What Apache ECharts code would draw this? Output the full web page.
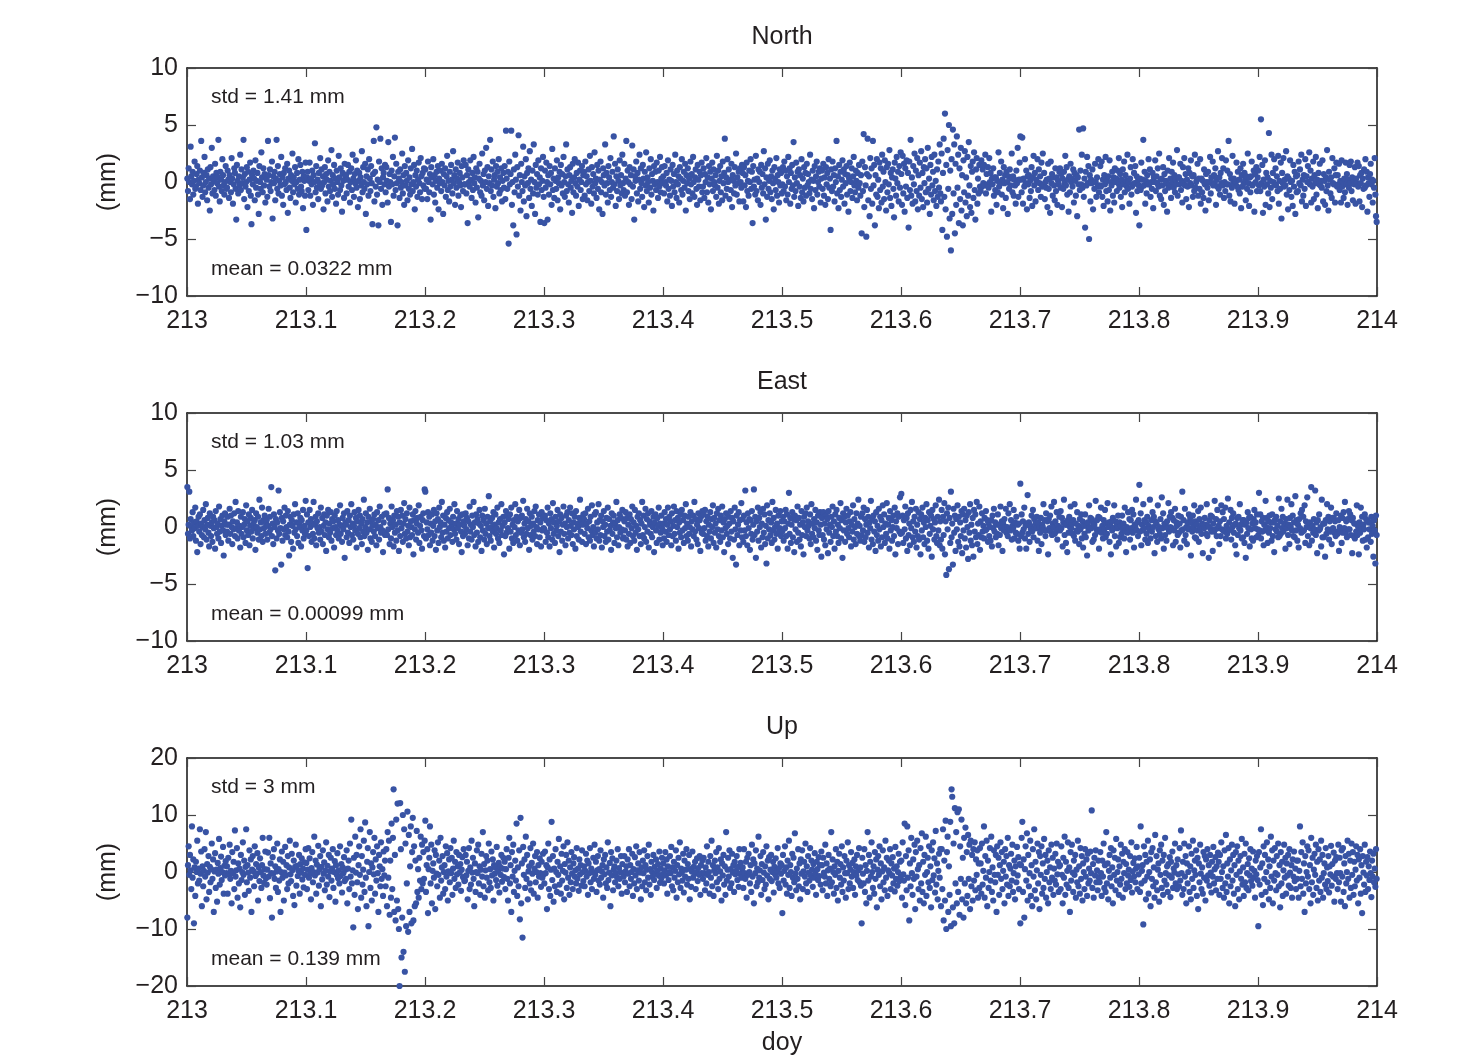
<!DOCTYPE html>
<html><head><meta charset="utf-8">
<script src="https://cdn.jsdelivr.net/npm/echarts@6/dist/echarts.min.js"></script>
<style>html,body{margin:0;padding:0;background:#fff}#c{width:1475px;height:1058px}</style>
</head><body><div id="c"></div>
<script>
// residual values in tenths of mm, 60 epochs per row, 30 rows spanning doy 213..214
const panelTitles = ["North", "East", "Up"];
const stdLabels = ["std = 1.41 mm", "std = 1.03 mm", "std = 3 mm"];
const meanLabels = ["mean = 0.0322 mm", "mean = 0.00099 mm", "mean = 0.139 mm"];
const xMin = 213, xMax = 214;
const yRanges = [[-10, 10, 5], [-10, 10, 5], [-20, 20, 10]];

const northRows = [
[3,-8,12,0,-15,31,5,-2,9,-11,1,18,-6,-4,7,14,-19,2,-1,10,-7,36,4,-13,-3,8,22,-9,0,6,-16,11,-5,3,-25,13,-2,30,-10,5,1,-7,16,-12,8,-1,4,37,-4,-17,9,2,-8,20,6,-3,-11,0,14,-6],
[-5,10,2,-14,6,0,-9,21,3,-19,-2,12,8,-6,-33,15,1,-10,5,-3,24,-7,11,-1,4,37,-15,7,-4,0,13,-22,9,-8,2,17,-12,-37,6,-2,10,3,-16,19,-5,1,8,-11,-28,14,0,-6,26,4,-9,12,-3,7,-18,5],
[2,-13,36,6,-4,11,-8,0,18,-32,5,-1,9,-16,3,37,-6,14,-10,1,7,-3,22,-12,4,-20,8,-2,12,0,-7,16,-27,3,10,-5,-14,6,1,25,-9,4,-2,13,-18,0,8,-6,20,-11,2,15,-4,-8,9,-23,5,1,-12,17],
[-42,4,9,-7,1,17,-12,3,-2,10,-20,6,0,34,-9,14,-5,2,-15,8,-1,21,-6,11,-3,5,-24,0,13,-10,7,2,-17,19,-4,9,-8,1,28,-13,6,-2,15,-6,3,-19,10,0,-11,23,4,-7,12,-3,-26,8,1,-14,16,5],
[6,-10,2,15,-4,9,-18,0,12,-7,24,3,-13,7,-1,19,-5,10,-22,1,8,-15,4,-3,27,-9,13,0,-6,16,-28,5,-2,11,-12,20,3,-8,14,-1,-37,7,36,-17,9,-4,48,-11,2,-38,18,0,38,-6,12,-20,4,8,-2,15],
[-9,13,1,-18,35,-4,7,0,-35,10,-2,22,-12,5,39,-7,16,-1,-38,9,3,-14,11,-5,0,25,-10,6,-20,14,-3,8,1,-16,19,-6,4,-11,12,-2,29,-8,0,15,-24,6,-4,10,-13,2,17,-1,-9,21,5,-15,8,-3,12,-6],
[11,-6,2,-15,18,0,-9,7,-33,13,4,-2,20,-11,6,-18,1,9,-5,14,-24,3,-1,10,-8,16,0,-28,7,-3,12,-13,5,23,-7,1,-17,9,-4,15,2,-10,27,-1,6,-20,11,-5,3,17,-12,0,8,-3,-22,14,4,-8,19,-2],
[-2,15,-10,6,-36,11,0,-4,19,2,-14,8,-7,22,-1,4,-18,12,-5,9,-31,3,16,-9,1,-12,25,-3,7,-16,10,0,30,-6,13,-21,5,-1,37,-8,11,-3,18,-13,2,6,-23,14,-4,9,-1,20,-10,4,-7,12,-17,1,8,-5],
[14,-15,45,3,-6,9,-54,18,-2,7,45,-20,0,-38,11,-9,24,2,-46,13,-4,41,-12,6,-25,16,0,-8,31,-17,5,-3,20,-30,8,-1,12,-14,27,-6,2,-21,10,-10,33,0,-28,15,-5,7,-11,19,-2,4,-35,12,-7,1,22,-13],
[-36,10,-5,17,0,-33,6,-11,14,-2,8,-20,29,-7,3,-14,12,1,-6,19,-16,4,-1,9,-24,15,-3,7,-10,22,0,-13,5,33,-8,11,-2,-18,6,13,-5,1,-27,16,-9,4,20,-1,-12,8,-4,17,-21,2,10,-7,0,14,-15,6],
[9,-12,18,-2,5,-16,0,11,-8,23,1,-19,13,-4,7,-10,26,-1,3,-14,15,-6,10,-24,2,18,-9,0,-28,12,6,-3,33,-11,8,-1,-18,14,4,-7,21,-13,0,9,-5,40,-2,16,-21,5,-8,11,1,-15,19,-3,6,-10,24,-1],
[-7,16,-12,3,36,-9,10,0,-20,13,-2,6,-15,32,-4,11,-33,5,1,18,-10,8,-17,2,24,-6,12,-1,-13,15,3,-22,9,-3,26,-8,4,0,-18,12,-5,20,-11,7,1,-25,14,-2,9,-7,17,0,-14,10,-4,22,-9,3,13,-1],
[5,-10,14,0,-3,8,-17,19,-6,2,-12,11,1,-21,15,-4,7,-9,24,0,-14,10,-2,5,-18,13,3,-7,20,-11,1,9,-5,16,-25,6,-1,12,-8,3,-15,18,-2,7,-10,22,0,-13,4,11,-6,-20,15,2,-4,9,-16,6,17,-9],
[-4,12,-14,7,0,21,-9,4,-18,14,-2,9,-24,3,17,-8,11,0,-3,6,-13,23,-5,10,-19,1,14,-9,5,-16,18,-1,8,38,-12,4,-6,20,0,11,-15,2,-7,16,-22,6,1,-10,13,-3,25,-11,4,-1,9,-17,12,0,-5,15],
[8,-17,13,-3,6,-22,17,-8,1,-12,10,0,20,-6,9,-36,14,-4,2,-11,23,-8,3,-16,11,0,9,-20,15,-5,7,-10,27,-2,12,-33,4,-13,16,-6,1,19,-9,5,-15,10,-1,-24,13,3,-7,21,-12,6,0,-18,11,-3,8,-10],
[-2,13,-8,18,-4,10,-16,5,-11,22,0,12,-19,8,-6,15,-3,35,-13,4,-8,17,-1,9,-21,11,-4,6,-14,20,-9,3,-17,13,-5,8,-12,16,-3,7,0,-10,24,-6,2,-15,10,1,-23,14,-7,5,18,-11,0,9,-4,12,-18,3],
[10,-6,16,-12,4,-20,13,-2,8,-15,20,-5,3,-42,11,-8,18,-4,6,-17,12,0,36,-10,5,-23,15,-7,9,-13,2,19,-4,11,-19,7,-1,14,-11,6,-26,3,17,-8,0,12,-14,5,22,-3,-9,10,1,-16,8,-5,15,-1,-12,6],
[-45,18,-8,42,-22,13,-3,-48,7,38,-16,5,-30,21,-6,12,-19,36,-3,15,-38,6,-11,20,-13,2,-23,17,-7,12,-18,24,-4,9,-15,19,0,-25,13,-9,16,-2,28,-14,8,-21,4,11,-6,-31,17,3,-12,22,-1,9,-17,14,-5,26],
[7,-20,23,-10,16,-26,12,-4,19,-14,8,-40,18,-7,37,-12,4,-19,14,-2,25,-17,10,-8,21,-24,6,-12,17,-5,27,-15,8,-22,13,-1,20,-9,12,-18,30,-6,3,-28,15,-11,22,-3,9,-16,24,-8,1,-21,11,-13,18,-5,33,-10],
[-17,25,-42,8,38,-13,60,-24,15,-48,28,-6,50,-32,10,-60,20,-28,46,-10,33,-45,16,-20,40,-5,24,-36,12,-15,30,-25,6,-38,19,-9,27,-18,4,-30,22,-12,35,-3,-22,14,-27,9,18,-14,26,-7,-33,11,21,-19,3,-10,15,-4],
[-8,19,-4,11,-1,15,-3,24,-10,7,-2,13,-5,21,0,8,-26,3,-2,12,-12,4,-7,4,-20,1,-9,26,-4,8,-1,18,-11,2,-23,13,-1,6,-14,9,0,-28,5,-6,11,-3,3,25,-9,5,-12,2,-3,-19,10,-1,30,-13,2,17],
[40,2,-9,39,-19,3,-4,20,-1,10,-24,5,-2,6,-14,1,-8,13,-21,4,23,-3,8,-17,2,0,20,-7,11,-1,5,-13,17,-4,25,-2,8,-15,0,-5,2,-22,16,-6,3,-27,18,-1,7,-12,4,-3,-16,12,-8,4,-20,1,-2,9],
[12,-5,7,-22,3,-6,9,-1,23,-3,13,-11,2,-26,5,-9,16,0,3,-4,11,-18,8,1,-12,6,-30,4,-2,46,-7,10,-2,24,-5,47,-13,3,-40,9,-3,22,-1,14,-50,6,-17,2,-1,11,-24,0,-6,16,0,-13,4,-4,20,-9],
[-3,14,-4,18,-13,2,-21,6,-2,22,-8,1,-17,5,-7,19,-25,0,-3,9,-12,4,-18,12,0,3,-8,10,-1,21,-5,7,-13,2,-22,11,-2,18,-9,6,1,-4,24,-6,0,-19,3,13,-11,-4,20,-2,8,-1,14,-27,5,-8,1,-3],
[-38,3,-7,17,-4,2,37,-3,9,-19,1,-10,6,-2,20,-2,11,-13,0,-6,8,-23,4,0,19,-8,5,-1,12,-4,25,-12,2,-15,3,-3,13,-20,7,-8,1,-1,-26,10,-5,21,-2,3,-14,9,0,17,-5,6,-9,2,-2,28,-12,4],
[4,-2,16,-7,1,-18,13,-1,21,-3,7,-15,2,-4,12,-22,8,-1,19,-3,5,-13,6,-8,24,-5,0,2,16,-12,3,-6,20,-19,3,-9,1,-14,11,-2,-25,7,0,-5,9,-16,0,22,-10,4,-1,18,-3,6,-1,12,-20,2,-4,27],
[-6,4,-11,8,-1,21,-3,12,-14,0,-8,19,-2,10,-2,36,-12,7,-17,3,-5,23,-1,3,-19,1,0,17,-4,9,-7,2,-10,12,-23,6,-4,16,-1,8,2,-16,5,-6,25,-1,-21,4,-9,5,18,-3,-2,10,-26,7,0,13,-8,4],
[10,-3,22,-8,55,-1,15,-27,2,-4,19,-20,8,-2,4,-10,43,-22,1,-5,24,-15,8,0,20,-2,12,-3,5,-8,23,-19,1,-6,17,-32,8,-1,21,-4,2,-3,27,-11,5,-24,3,-7,19,0,-13,1,-21,15,-4,9,-28,5,-9,6],
[-8,18,-1,11,-3,24,-17,2,-12,6,-6,20,-21,5,0,14,0,26,-2,10,-18,3,-4,18,-15,6,-1,22,-11,2,-23,8,-2,16,-3,1,-5,19,-17,7,1,-20,4,-8,28,-3,-25,9,2,-10,4,-14,21,-1,-2,12,-18,6,17,-4],
[6,-2,16,-7,1,-18,19,-4,0,-14,3,-9,17,-2,7,-20,2,-5,15,-1,18,-8,4,-16,0,-2,13,-19,3,-1,17,-4,14,-17,6,-1,8,-22,3,-6,11,-5,20,-3,9,-26,4,-1,-13,7,16,-2,2,-18,1,-5,21,-11,-30,-35]
];

const eastRows = [
[35,-6,2,31,-10,7,0,-3,13,-8,4,-1,17,-12,5,-22,1,9,-4,11,-15,3,-7,0,15,-9,6,-2,20,-11,2,8,-5,-17,12,1,-8,4,-13,9,-1,6,-19,14,0,-6,3,-10,18,-4,7,-14,1,10,-3,-25,5,12,-7,2],
[-4,9,-12,2,16,-6,10,0,-15,5,-2,12,-8,22,-1,4,-10,14,-3,1,-18,9,-6,0,13,-9,2,7,-14,19,-3,5,-7,11,-16,1,8,-4,15,-10,3,-1,6,-20,12,0,-5,9,-11,24,-2,4,-8,17,-13,6,-1,10,-6,3],
[6,-11,1,16,-5,9,-2,35,-8,3,-15,11,0,-38,7,-10,4,-3,32,-6,13,-1,-33,8,-12,5,-2,17,-7,10,0,-9,14,-4,-25,2,9,-13,6,1,-19,11,-5,20,-2,4,-8,12,-14,3,0,8,-17,6,-3,15,-10,1,-6,23],
[-3,11,-36,4,-8,15,0,7,-13,3,-6,22,-10,2,9,-16,5,-1,12,-5,0,-11,17,-4,8,-15,1,11,-7,4,-21,10,-2,15,-9,3,-5,13,-12,7,-1,5,-18,10,0,-7,14,-3,6,-10,2,19,-6,1,-13,8,-2,12,-27,4],
[2,-9,14,-5,6,-14,10,0,20,-7,3,-11,1,13,-3,8,-18,5,-6,15,-1,10,-9,3,-15,7,-4,24,-8,0,12,-5,4,-20,9,-2,16,-10,5,-13,1,7,-4,11,-8,2,-16,13,-1,6,-11,18,0,-5,9,-3,-22,4,11,-7],
[-5,12,-7,33,-2,8,-15,3,-10,18,0,6,-17,10,-5,2,-12,14,-3,9,-21,4,-8,15,-1,10,-13,3,21,-6,7,-10,12,-4,1,-16,17,-9,5,0,-7,11,-24,6,-2,14,-11,3,8,-5,19,-14,1,9,-3,-19,6,12,-8,33],
[31,-10,4,-2,13,-7,9,-16,3,-5,11,-12,1,15,-8,5,-20,12,-3,7,-14,17,0,4,-9,22,-5,10,-12,2,-18,8,-4,13,-10,6,-1,16,-7,4,0,-13,9,-2,20,-6,3,-11,14,-1,7,-15,2,10,-4,-22,11,-8,5,1],
[-6,12,-2,8,-16,5,-10,18,-4,2,-11,10,0,22,-7,4,-17,11,-5,7,-13,3,15,-9,1,-21,10,-3,6,-11,16,-6,3,-15,9,-1,27,-8,5,-12,0,8,-4,13,-18,2,11,-6,-1,17,-10,4,-14,7,-3,20,-7,1,9,-24],
[4,-8,14,-5,10,-1,7,-19,11,-4,17,-10,2,-14,6,0,20,-7,9,-12,5,-3,15,-16,8,-5,10,-2,23,-9,3,-13,7,-6,16,-1,5,-20,12,-7,1,9,-11,3,-4,14,-8,18,0,-15,6,-2,11,-9,4,-17,13,-3,8,-1],
[-2,10,-13,6,-5,17,-9,3,-17,12,-1,7,-11,21,-6,4,-14,9,-3,1,15,-8,5,-22,11,-4,8,-12,2,18,-6,3,-16,10,0,13,-10,6,-5,17,1,-7,12,-15,4,-2,9,-19,14,-8,3,0,-11,8,24,-4,6,-13,2,11],
[7,-6,12,-15,3,-1,16,-9,5,-12,9,-3,19,-7,0,-17,11,-5,13,-10,4,-2,20,-12,6,-7,10,-18,5,0,14,-8,2,-13,8,-4,17,-11,7,-3,1,-20,12,-6,4,10,-14,3,-1,22,-9,6,-16,0,11,-5,8,-2,15,-10],
[-9,5,-3,13,-11,8,-17,2,-6,11,-14,7,-1,18,-8,4,-12,15,-5,1,-20,9,-2,12,-8,6,-15,3,22,-7,10,-10,0,16,-13,7,-4,12,-18,5,2,-6,14,-9,0,9,-22,4,11,-3,-14,8,1,17,-11,3,-5,10,-1,-16],
[3,-10,13,-4,7,-13,2,17,-7,9,-2,5,-16,12,-8,1,18,-6,6,-12,14,0,8,-19,4,-5,11,-9,15,-3,6,-14,10,-1,20,-8,3,-12,9,-6,0,13,-17,5,-2,10,-8,22,-4,7,-11,2,-15,12,-1,6,-21,9,-5,14],
[-6,11,-1,15,-12,5,-8,9,-17,2,-4,13,-10,7,0,19,-14,8,-5,3,-18,12,-2,16,-8,6,-13,10,-3,18,-9,4,-22,7,-1,12,-6,1,-15,9,3,-10,14,-4,8,-27,5,-11,17,-2,-33,10,-7,2,13,-16,6,-3,21,-9],
[7,-13,10,-3,32,-8,4,-16,12,-1,7,-20,6,-6,14,-11,2,33,-7,9,-27,5,-4,17,-12,8,0,13,-18,3,-9,16,-5,11,-15,1,-32,19,-10,6,-2,12,-7,4,-14,22,-3,8,-11,0,15,-6,3,-19,10,-4,-1,14,-8,5],
[-4,9,-12,5,-1,15,-8,11,-19,3,30,-6,8,-14,2,13,-9,7,-22,10,-2,6,-13,18,-5,8,-11,2,-17,14,-7,4,-24,9,0,12,-8,17,-3,5,1,-10,11,-15,20,-6,3,-9,7,-1,15,-12,4,-20,10,-3,-7,13,2,-26],
[8,-7,13,-11,3,-16,10,-2,7,-23,14,-5,2,-13,9,0,18,-8,5,-19,11,-4,15,-8,2,-14,8,-1,21,-10,6,-27,12,-3,9,-13,4,16,-6,10,-1,-9,5,13,-17,2,-4,19,-11,7,0,-15,12,-6,3,24,-8,1,-12,9],
[-7,12,-3,17,-13,7,-9,2,15,-5,9,-18,4,-1,23,-11,8,-15,10,-4,5,-21,13,-7,1,-12,16,-2,9,-17,6,-9,19,0,11,-14,3,-6,21,-10,2,8,-19,14,-3,6,-12,0,10,-8,17,-24,5,-1,12,-15,9,-4,26,-6],
[29,-5,10,-14,6,-2,18,-10,8,-21,12,-7,3,-16,15,-1,22,-9,5,-13,9,-4,16,-18,2,-8,13,-11,7,-24,11,-3,17,-9,4,-15,8,0,20,-12,6,-19,13,-6,1,10,-26,15,-2,7,-11,4,19,-8,-14,9,-3,24,-16,5],
[-11,15,-19,9,-7,21,-24,5,-42,12,-2,17,-37,8,-14,31,-9,3,-33,16,-5,10,-21,7,-2,19,-13,9,-17,4,-8,14,-23,11,-3,16,-10,6,-18,10,0,-28,13,-5,20,-12,2,-16,8,-26,15,-4,11,-9,22,-15,3,-7,18,-20],
[5,-9,12,-4,1,-10,8,-3,14,-2,6,-13,3,-8,0,-12,6,-17,10,-1,16,-4,4,-9,2,-6,11,-16,2,-7,18,-1,5,-21,3,-3,7,0,16,-5,0,-8,12,-2,20,-3,6,-11,1,-1,15,-10,4,-5,9,-6,2,-12,3,-19],
[38,-8,11,-5,5,-2,17,-10,1,-19,3,28,-6,4,-13,1,-2,10,-4,15,-9,7,-1,3,-1,9,-12,4,-21,0,-5,8,-15,2,0,20,-3,6,-8,12,-3,5,-24,7,-1,10,-4,18,-7,3,0,22,-6,5,-4,13,-11,1,-2,9],
[-3,14,-1,8,-17,4,24,-7,2,-14,2,-22,6,-5,9,0,18,-1,3,-6,6,-8,20,-12,3,-3,13,-4,1,-15,7,-2,11,-10,5,-18,1,-6,11,-9,1,-25,4,-3,19,0,8,-1,7,-13,4,-11,2,-7,23,-2,6,-4,9,-19],
[8,-2,17,-5,1,-10,6,-2,15,-9,3,-6,21,0,4,-13,2,-24,5,-3,8,-1,19,-8,5,-17,2,-1,10,-14,4,-9,1,-6,10,-2,3,-10,17,-4,-22,0,-5,13,-2,7,-11,6,-1,15,-5,11,-18,2,0,24,-3,4,-8,6],
[37,-4,12,-16,2,-3,20,-1,6,-11,4,-6,9,-14,1,-2,24,-10,6,-4,13,0,9,-23,5,-8,3,-13,19,-2,0,-6,7,-10,26,-1,12,-19,3,-7,2,-12,5,-1,21,-4,9,0,13,-1,8,-16,6,-3,16,-13,4,1,-7,10],
[-5,3,-18,9,-3,31,-2,6,-12,16,-7,0,-15,4,-2,11,-1,8,-25,4,-4,10,0,19,-9,5,-10,2,-3,14,-13,7,-1,17,-6,3,-23,2,-1,8,2,-6,20,-8,1,-27,6,-1,10,-4,9,-21,3,-4,23,-2,7,-8,15,-1],
[1,-15,5,-8,19,-2,13,-3,7,-4,17,-10,1,-6,25,-3,4,-2,15,-11,8,0,12,-5,2,-16,3,-24,8,-7,9,-1,20,-3,2,-10,6,-9,6,-14,2,-27,4,-6,13,-1,8,-17,9,-2,-10,3,-12,7,15,-1,4,-9,11,-2],
[-7,30,-3,11,-10,5,-4,8,-16,2,-3,23,0,8,-14,5,-5,10,-1,4,-12,11,-8,4,-22,6,-2,9,-4,1,-9,25,-8,5,-6,16,-1,9,-4,3,1,-19,7,-1,24,-7,2,-15,8,0,20,-3,10,-8,4,-9,27,-3,6,-12],
[2,-18,7,-1,12,-5,15,-4,9,-3,19,-14,5,0,26,-8,2,-16,4,-1,35,-12,1,-5,7,-2,32,-7,4,-23,6,-3,11,-2,0,-17,24,-9,3,-9,3,-26,6,-6,20,-2,9,-11,5,-4,17,-15,8,-1,8,-5,5,-8,12,-4],
[-6,6,-21,0,-4,10,-14,8,-5,13,-1,22,-5,5,-9,7,-2,14,-2,11,-7,6,-23,8,-8,3,-10,3,-4,19,-7,0,-24,4,-5,17,-1,9,-12,2,-2,11,-11,7,-18,5,-9,4,-2,4,-13,9,-6,1,-26,6,-3,-32,10,-7]
];

const upRows = [
[-80,12,45,-5,30,3,-30,80,-10,22,-90,8,-42,18,0,55,-20,6,-15,75,-3,36,-60,10,-25,2,40,-8,70,-48,14,-1,28,-35,9,-18,5,50,-12,22,-70,1,33,-28,4,-52,16,-3,58,-22,7,27,-14,0,44,-38,11,-6,19,-2],
[10,-38,25,-4,48,-12,2,-55,35,-2,18,-30,73,-8,3,42,-45,15,-20,6,-62,30,-14,0,52,-5,20,-40,9,75,-18,12,-1,-33,38,-10,22,-70,4,28,1,-25,45,-7,14,-3,33,-50,8,-16,24,0,-28,12,60,-6,-19,5,36,-11],
[-22,4,34,-8,60,-46,15,-2,-80,26,-3,40,-12,10,-28,1,50,-35,5,-15,22,-70,0,36,-10,18,-50,-1,44,-6,12,-30,28,-20,8,55,-4,-16,32,3,-42,20,-58,9,48,-24,11,-7,2,30,-38,14,-1,24,-13,6,-27,17,-5,40],
[16,-30,4,42,-10,24,-2,-48,7,35,-18,0,62,-6,20,-38,13,-1,46,-24,5,28,-60,9,-13,38,-3,17,-32,2,52,-22,11,-8,30,-44,1,25,-15,6,40,-28,0,19,-52,12,-5,33,-11,3,-20,45,-7,14,-36,8,-2,26,-16,4],
[-12,38,-55,6,20,-30,50,-8,92,-20,3,-97,25,-40,62,-1,30,-18,-65,12,45,-5,75,-45,28,-22,4,55,-35,87,-10,-60,18,42,-95,0,70,-28,15,-50,8,35,-4,60,-38,22,-15,45,-2,-70,30,10,-25,52,-12,5,-42,36,-6,20],
[-25,40,-60,70,-10,55,-75,20,-45,85,-30,60,145,-70,30,-85,92,-50,120,-65,-100,-200,121,40,-150,-80,100,-140,75,-175,50,-95,-20,106,-105,65,-70,10,80,-90,35,95,-85,45,-60,20,-55,72,-35,5,-45,25,-15,62,-30,48,-20,35,-12,55],
[90,-35,12,40,-72,5,25,80,-20,48,-55,2,15,-10,38,-65,30,-3,-25,52,-5,20,-45,60,-15,8,28,-38,0,12,-30,45,-8,33,-50,1,22,-18,42,-2,25,-40,6,55,-12,18,-28,35,-4,10,-22,30,-1,14,-33,4,26,-9,40,-16],
[-15,30,-6,18,-48,2,42,-30,8,-22,55,-1,25,-12,-60,15,-35,0,38,-2,48,-20,10,-40,4,32,-8,70,-25,14,-45,3,28,-10,20,-32,50,-18,5,-28,36,-6,22,-50,12,-3,8,-14,44,-24,1,16,-36,9,-5,30,-17,6,25,-9],
[18,-30,5,40,-12,-50,25,60,-20,12,-70,35,-8,48,-35,2,20,-15,85,-42,8,-25,38,-83,95,-55,15,-115,44,-5,22,-28,62,-12,30,-48,1,10,-20,42,-32,16,-3,50,-38,6,28,-18,0,35,-45,12,-8,24,-2,-26,18,-10,32,-4],
[-20,36,-2,12,-65,8,50,-30,22,-42,4,88,-14,28,-52,6,-25,40,0,-35,18,-5,58,-22,10,-38,32,-15,2,45,-48,14,-1,30,-28,52,-10,20,-40,8,-18,35,-3,-30,15,26,-8,3,-20,42,-12,6,-33,22,-4,12,-24,38,0,-16],
[10,-25,2,32,-8,20,-40,15,-2,42,-18,6,-30,0,25,-12,48,-5,18,-35,3,28,-15,5,-22,38,-10,1,12,-45,22,-4,30,-20,8,-28,52,-14,-1,16,-60,35,-6,24,-32,4,10,-18,-2,20,-9,40,-25,7,-12,0,28,-38,14,-3],
[-8,28,-18,1,10,-35,22,-3,40,-25,12,-12,0,32,-42,5,-20,26,-6,45,-30,3,15,-15,35,-1,-48,8,-25,20,-2,38,-18,12,-32,4,28,-10,48,-22,5,-40,18,0,-8,30,-14,9,-3,22,-28,2,14,-6,36,-19,6,-11,25,-4],
[15,-20,3,35,-6,22,-38,10,-14,0,28,-2,44,-25,8,-32,18,-10,2,38,-45,12,-18,25,-4,52,-28,6,-1,-15,32,-36,20,-8,4,40,-22,14,-12,30,-48,5,-26,1,36,-10,9,-3,18,-30,0,24,-16,7,-5,28,-40,12,-2,20],
[-12,25,-2,-32,8,-20,45,-5,18,0,-38,28,-10,55,-25,12,-42,3,20,-2,35,-18,8,-30,42,-12,1,22,-50,15,-6,30,-22,10,-40,70,-15,4,25,-8,38,-28,5,-20,32,-1,12,-35,18,-4,2,28,-14,9,-26,40,-3,16,-10,6],
[8,-28,40,-2,-12,18,-45,25,-5,32,0,-20,12,-35,48,-8,22,-55,15,-2,38,-25,6,-18,62,-10,3,28,-40,14,-14,35,-1,-30,10,-22,45,-6,20,-48,26,-12,4,30,-16,0,18,-36,9,-4,24,-10,2,42,-20,7,-28,15,-3,12],
[-72,30,-15,2,45,-22,8,-38,20,-5,55,-28,12,0,-42,32,-10,25,-18,68,-3,-32,6,-12,40,-25,15,-48,22,-3,38,-30,1,18,-8,50,-20,10,-35,28,-1,-15,42,-6,20,4,-26,14,-10,33,-2,-40,18,5,-14,26,-7,12,-22,36],
[12,-32,25,-1,-8,48,-20,15,-42,3,30,-12,6,-25,70,-18,22,0,-38,10,-5,40,-28,18,-50,2,32,-10,14,-22,45,-35,8,-15,28,-2,-45,20,-2,52,-30,12,-20,4,35,-8,16,-28,0,22,-40,10,-6,30,-14,3,42,-18,8,-24],
[-90,25,-3,-20,40,-35,12,-55,2,70,-15,30,-45,18,-8,52,0,-28,10,-38,35,-12,22,-62,4,28,-5,45,-25,15,-48,1,38,-18,8,-32,55,-10,25,-42,3,20,-2,40,-30,15,-6,26,-20,6,-34,44,-12,10,-24,0,32,-16,18,-8],
[20,-45,52,-4,-15,85,-58,28,-32,80,-10,38,-85,15,-25,60,-2,-40,22,-12,48,-65,35,-8,55,5,-30,12,-50,42,-20,68,-35,18,-55,30,-5,62,-42,0,25,-18,45,-28,10,-62,38,-14,52,-6,24,-36,72,-22,15,-48,2,32,-10,40],
[-60,40,-30,75,-85,20,-50,90,-100,35,62,-70,10,-40,88,-95,145,132,-62,50,-90,112,-20,70,-55,105,-35,110,-75,45,-12,92,-48,25,-80,60,-20,78,-55,35,-42,65,-12,48,-65,55,-25,30,-50,40,-15,52,-32,22,-5,38,-45,15,-28,42],
[15,-38,50,-22,2,80,-45,28,-10,55,-60,20,-28,0,42,-15,62,-35,8,-50,38,-5,-18,30,-70,45,-5,25,-40,12,52,-12,35,-30,2,18,-55,40,-8,28,-22,60,-42,12,-25,6,32,-15,48,-35,-2,20,-48,10,-18,44,-6,26,-30,14],
[-90,12,60,88,-35,22,-80,5,45,-15,68,-50,30,-25,-2,55,-42,12,-60,40,-8,75,-32,18,-48,3,50,-20,35,-65,28,-5,45,-38,15,-28,58,-12,30,-45,0,20,-55,38,-18,8,-30,48,-10,25,-40,6,-15,32,-22,50,-4,18,-35,10],
[12,-30,45,-5,-55,25,-10,62,-40,18,-22,2,52,-28,8,-70,35,-15,48,-1,-35,20,-5,30,-45,4,-18,55,-25,10,-38,42,-12,28,-50,15,0,-30,40,-8,22,-42,32,-20,6,-15,36,-2,108,-28,14,-45,25,-6,38,-18,3,-32,20,-10],
[-18,35,-2,-42,20,-8,50,-28,12,-35,70,-20,15,-48,2,30,-10,42,-25,8,-55,38,-5,25,-32,58,-15,0,22,-40,10,-22,48,-12,32,-45,18,-2,40,-30,14,-20,35,-6,4,-26,28,-14,52,-36,1,16,-8,24,-18,6,44,-30,10,-4],
[25,-35,80,-20,2,12,-92,45,-15,30,-48,18,-8,55,-38,0,22,-60,35,-12,42,-25,8,-45,65,-18,28,-32,4,15,-52,38,-5,48,-28,20,-40,30,-15,60,-2,-22,10,-35,14,-6,26,-44,18,-10,36,-28,6,-1,50,-20,12,-30,22,-4],
[-25,42,-15,73,-2,-40,18,-30,50,-8,28,-55,15,-20,0,45,-35,10,-48,32,-12,55,-28,3,20,-5,38,-42,25,-65,15,-18,48,-3,-30,8,-38,35,-10,28,-50,22,-15,40,-6,12,-24,30,-1,-36,18,-8,44,-20,5,26,-32,10,-12,34],
[18,-40,30,-12,52,0,-28,10,-45,38,-20,65,-35,15,-8,42,-55,22,-25,3,48,-15,30,-38,12,-60,35,-5,45,-30,20,-48,1,28,-12,58,-22,8,-42,32,-18,50,-28,-2,14,-32,24,-6,40,-16,6,-24,36,-10,2,-45,20,-4,28,-14],
[-95,35,-22,8,75,-40,15,-58,45,-12,30,-35,0,52,-18,22,-48,10,-28,62,-8,38,-55,20,-15,42,-2,-32,28,-5,50,-25,12,-62,35,-20,18,-42,3,48,-10,25,-38,15,-6,30,-24,40,-1,-28,12,-45,22,-8,36,-16,6,-30,20,-12],
[20,-45,2,80,-25,35,-12,52,-38,15,-70,28,-20,0,45,-8,38,-30,12,-55,60,-18,25,-40,4,32,-5,48,-28,18,-50,40,-15,22,-35,55,-10,30,-45,-2,15,-22,42,-30,8,-16,28,-36,10,-4,46,-24,14,-8,34,-52,20,-12,26,-2],
[-30,48,-18,25,-2,-52,38,-8,42,-35,15,-60,28,-20,0,55,-12,32,-45,20,-28,50,-5,35,-40,18,-25,4,45,-15,30,-55,22,-10,40,-38,12,-72,28,-1,-22,48,-35,18,-6,26,-30,10,-14,36,-2,-44,20,-8,32,-18,6,-26,40,-12]
];

const allRows = [northRows, eastRows, upRows];

function toPoints(rows) {
  const n = rows.reduce((s, r) => s + r.length, 0);
  const pts = [];
  let k = 0;
  rows.forEach(r => r.forEach(v => {
    pts.push([xMin + (k + 0.5) * (xMax - xMin) / n, v / 10]);
    k++;
  }));
  return pts;
}

const FONT = '"Liberation Sans", Arial, Helvetica, sans-serif';
const TXT = '#231f20';
const DOT = '#3853a4';
const tops = [68, 413, 758];
const H = 228, L = 187, W = 1190;

const grids = [], xAxes = [], yAxes = [], series = [], graphics = [];
const xFmt = v => Math.abs(v - Math.round(v)) < 1e-6 ? String(Math.round(v)) : v.toFixed(1);
const yFmt = v => v < 0 ? '\u2212' + Math.abs(v) : String(v);

tops.forEach((t, i) => {
  grids.push({ left: L, top: t, width: W, height: H });
  const tick = { show: true, inside: true, length: 9, lineStyle: { color: '#444', width: 1.2 } };
  const line = { show: true, onZero: false, lineStyle: { color: '#111', width: 1.5 } };
  xAxes.push({
    gridIndex: i, type: 'value', min: xMin, max: xMax, interval: 0.1, position: 'bottom',
    axisLine: line, axisTick: tick, splitLine: { show: false },
    axisLabel: { formatter: xFmt, fontSize: 25, color: TXT, fontFamily: FONT, margin: 13 },
    name: i === 2 ? 'doy' : '', nameLocation: 'middle', nameGap: 45,
    nameTextStyle: { fontSize: 25, color: TXT, fontFamily: FONT }
  });
  xAxes.push({
    gridIndex: i, type: 'value', min: xMin, max: xMax, interval: 0.1, position: 'top',
    axisLine: line, axisTick: tick, splitLine: { show: false }, axisLabel: { show: false }
  });
  const [mn, mx, iv] = yRanges[i];
  yAxes.push({
    gridIndex: i, type: 'value', min: mn, max: mx, interval: iv, position: 'left',
    axisLine: line, axisTick: tick, splitLine: { show: false },
    axisLabel: { formatter: yFmt, fontSize: 25, color: TXT, fontFamily: FONT, margin: 9 }
  });
  yAxes.push({
    gridIndex: i, type: 'value', min: mn, max: mx, interval: iv, position: 'right',
    axisLine: line, axisTick: tick, splitLine: { show: false }, axisLabel: { show: false }
  });
  series.push({
    type: 'scatter', xAxisIndex: i * 2, yAxisIndex: i * 2, data: toPoints(allRows[i]),
    symbol: 'circle', symbolSize: 6.2, itemStyle: { color: DOT, opacity: 1 },
    clip: false, animation: false, silent: true
  });
  graphics.push({ type: 'text', x: 782, y: t - 31, style: { text: panelTitles[i], font: '25px ' + FONT, fill: TXT, align: 'center', verticalAlign: 'middle' } });
  graphics.push({ type: 'text', x: 211, y: t + 29, style: { text: stdLabels[i], font: '21px ' + FONT, fill: TXT, align: 'left', verticalAlign: 'middle' } });
  graphics.push({ type: 'text', x: 211, y: t + 201, style: { text: meanLabels[i], font: '21px ' + FONT, fill: TXT, align: 'left', verticalAlign: 'middle' } });
  graphics.push({ type: 'text', x: 108, y: t + H / 2, rotation: Math.PI / 2, style: { text: '(mm)', font: '25px ' + FONT, fill: TXT, align: 'center', verticalAlign: 'middle' } });
});

const chart = echarts.init(document.getElementById('c'), null, { renderer: 'canvas' });
chart.setOption({
  backgroundColor: '#fff', animation: false,
  grid: grids, xAxis: xAxes, yAxis: yAxes, series: series, graphic: graphics
});
</script>
</body></html>
